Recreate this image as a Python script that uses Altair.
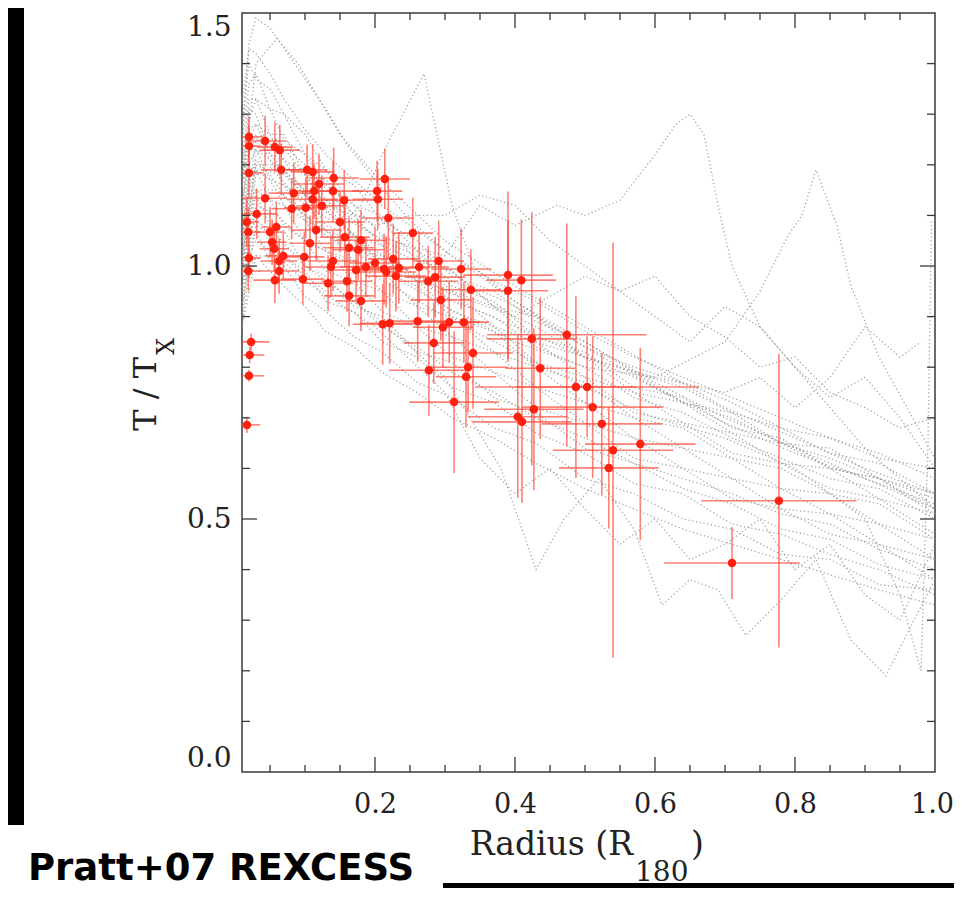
import altair as alt
import pandas as pd

# ---------------- red data points (Pratt+07 REXCESS) ----------------
rx = [0.020, 0.020, 0.043, 0.057, 0.064, 0.020, 0.066, 0.103, 0.111, 0.141,
      0.120, 0.084, 0.113, 0.140, 0.043, 0.111, 0.156, 0.214, 0.203, 0.204,
      0.081, 0.101, 0.124, 0.031, 0.017, 0.019, 0.050, 0.059, 0.116, 0.150,
      0.157, 0.180, 0.053, 0.056, 0.107, 0.163, 0.176, 0.069, 0.063, 0.099,
      0.140, 0.137, 0.219, 0.020, 0.019, 0.063, 0.057, 0.097, 0.133, 0.160,
      0.173, 0.187, 0.200, 0.213, 0.216, 0.163, 0.180, 0.226, 0.230, 0.234,
      0.254, 0.263, 0.276, 0.286, 0.291, 0.294, 0.323, 0.337, 0.211, 0.221,
      0.261, 0.297, 0.306, 0.327, 0.284, 0.340, 0.277, 0.333, 0.330, 0.313,
      0.390, 0.409, 0.390, 0.424, 0.436, 0.474, 0.487, 0.503, 0.427, 0.511,
      0.404, 0.410, 0.524, 0.579, 0.540, 0.534, 0.777, 0.710, 0.023, 0.021,
      0.020, 0.017]
ry = [1.255, 1.237, 1.247, 1.235, 1.229, 1.184, 1.190, 1.190, 1.186, 1.174,
      1.162, 1.144, 1.148, 1.148, 1.134, 1.132, 1.130, 1.172, 1.148, 1.132,
      1.113, 1.115, 1.119, 1.103, 1.087, 1.067, 1.067, 1.077, 1.071, 1.087,
      1.057, 1.051, 1.047, 1.034, 1.045, 1.036, 1.032, 1.020, 1.010, 1.018,
      1.010, 0.998, 1.095, 1.016, 0.990, 0.990, 0.972, 0.974, 0.966, 0.970,
      0.992, 0.998, 1.006, 0.994, 0.988, 0.941, 0.931, 1.014, 0.980, 0.996,
      1.065, 0.998, 0.970, 0.978, 1.010, 0.933, 0.994, 0.953, 0.885, 0.887,
      0.891, 0.879, 0.889, 0.889, 0.848, 0.828, 0.794, 0.800, 0.781, 0.731,
      0.982, 0.972, 0.951, 0.856, 0.798, 0.864, 0.761, 0.761, 0.717, 0.721,
      0.702, 0.692, 0.688, 0.648, 0.636, 0.601, 0.536, 0.413, 0.850, 0.824,
      0.783, 0.686]
rxe = [0.021, 0.017, 0.029, 0.026, 0.029, 0.021, 0.029, 0.029, 0.031, 0.036,
       0.036, 0.036, 0.036, 0.043, 0.031, 0.036, 0.043, 0.036, 0.036, 0.036,
       0.029, 0.031, 0.036, 0.029, 0.017, 0.017, 0.021, 0.021, 0.036, 0.036,
       0.036, 0.036, 0.021, 0.021, 0.029, 0.036, 0.036, 0.026, 0.026, 0.029,
       0.036, 0.036, 0.036, 0.017, 0.017, 0.029, 0.031, 0.031, 0.036, 0.036,
       0.036, 0.036, 0.036, 0.036, 0.043, 0.036, 0.036, 0.036, 0.043, 0.043,
       0.029, 0.043, 0.043, 0.043, 0.036, 0.043, 0.043, 0.043, 0.043, 0.043,
       0.043, 0.043, 0.043, 0.036, 0.043, 0.057, 0.057, 0.057, 0.043, 0.064,
       0.064, 0.050, 0.057, 0.064, 0.050, 0.114, 0.086, 0.160, 0.071, 0.100,
       0.071, 0.071, 0.086, 0.079, 0.086, 0.071, 0.111, 0.097, 0.026, 0.021,
       0.021, 0.019]
rye = [0.040, 0.040, 0.050, 0.050, 0.050, 0.050, 0.050, 0.050, 0.055, 0.060,
       0.060, 0.060, 0.055, 0.060, 0.050, 0.060, 0.060, 0.060, 0.060, 0.060,
       0.060, 0.060, 0.060, 0.050, 0.050, 0.050, 0.050, 0.050, 0.060, 0.060,
       0.060, 0.060, 0.045, 0.045, 0.055, 0.060, 0.060, 0.045, 0.045, 0.050,
       0.060, 0.060, 0.080, 0.040, 0.040, 0.045, 0.045, 0.050, 0.055, 0.060,
       0.060, 0.060, 0.070, 0.070, 0.070, 0.060, 0.060, 0.070, 0.070, 0.070,
       0.070, 0.070, 0.070, 0.080, 0.080, 0.080, 0.080, 0.080, 0.080, 0.080,
       0.080, 0.080, 0.080, 0.080, 0.080, 0.110, 0.090, 0.090, 0.100, 0.140,
       0.165, 0.120, 0.140, 0.250, 0.140, 0.220, 0.180, 0.100, 0.160, 0.140,
       0.160, 0.160, 0.140, 0.190, 0.410, 0.120, 0.290, 0.071, 0.016, 0.016,
       0.012, 0.016]

# ---------------- grey dotted simulated profiles ----------------
band_x = [0.01, 0.02, 0.03, 0.05, 0.07, 0.1, 0.13, 0.17, 0.21, 0.26, 0.31, 0.37, 0.43,
          0.5, 0.57, 0.64, 0.71, 0.78, 0.85, 0.92, 1.0]
p01 = [1.32, 1.43, 1.42, 1.38, 1.33, 1.27, 1.22, 1.17, 1.12, 1.07, 1.02, 0.97, 0.93, 0.87, 0.82, 0.78, 0.74, 0.70, 0.66, 0.63, 0.58]
p02 = [1.28, 1.40, 1.37, 1.35, 1.30, 1.26, 1.19, 1.16, 1.09, 1.05, 0.98, 0.95, 0.89, 0.85, 0.79, 0.76, 0.71, 0.68, 0.63, 0.61, 0.55]
p03 = [1.24, 1.36, 1.38, 1.31, 1.30, 1.22, 1.19, 1.12, 1.10, 1.03, 0.99, 0.92, 0.88, 0.82, 0.78, 0.73, 0.70, 0.65, 0.62, 0.58, 0.54]
p04 = [1.20, 1.33, 1.33, 1.31, 1.25, 1.22, 1.16, 1.12, 1.06, 1.03, 0.96, 0.93, 0.86, 0.83, 0.76, 0.74, 0.68, 0.66, 0.60, 0.58, 0.51]
p05 = [1.18, 1.29, 1.33, 1.26, 1.26, 1.18, 1.17, 1.10, 1.09, 1.01, 0.99, 0.92, 0.90, 0.82, 0.79, 0.73, 0.71, 0.65, 0.64, 0.58, 0.55]
p06 = [1.15, 1.27, 1.28, 1.26, 1.21, 1.18, 1.12, 1.10, 1.04, 1.01, 0.95, 0.92, 0.85, 0.82, 0.75, 0.73, 0.67, 0.65, 0.60, 0.58, 0.52]
p07 = [1.12, 1.25, 1.28, 1.22, 1.21, 1.14, 1.12, 1.06, 1.04, 0.97, 0.95, 0.88, 0.85, 0.78, 0.75, 0.69, 0.67, 0.61, 0.60, 0.54, 0.51]
p08 = [1.11, 1.22, 1.26, 1.21, 1.18, 1.14, 1.08, 1.06, 1.00, 0.97, 0.91, 0.88, 0.81, 0.78, 0.71, 0.69, 0.63, 0.61, 0.56, 0.54, 0.47]
p09 = [1.10, 1.23, 1.23, 1.21, 1.16, 1.13, 1.07, 1.05, 0.99, 0.96, 0.90, 0.87, 0.80, 0.77, 0.70, 0.68, 0.62, 0.60, 0.55, 0.53, 0.46]
p10 = [1.07, 1.20, 1.23, 1.17, 1.16, 1.09, 1.07, 1.01, 0.99, 0.92, 0.90, 0.83, 0.80, 0.73, 0.70, 0.64, 0.62, 0.56, 0.55, 0.49, 0.46]
p11 = [1.05, 1.18, 1.19, 1.17, 1.12, 1.09, 1.03, 1.01, 0.95, 0.92, 0.86, 0.83, 0.76, 0.73, 0.66, 0.64, 0.58, 0.56, 0.51, 0.49, 0.42]
p12 = [1.03, 1.15, 1.19, 1.13, 1.12, 1.05, 1.03, 0.97, 0.95, 0.88, 0.86, 0.79, 0.76, 0.69, 0.66, 0.60, 0.58, 0.52, 0.51, 0.45, 0.42]
p13 = [1.01, 1.13, 1.15, 1.13, 1.08, 1.05, 0.99, 0.97, 0.91, 0.88, 0.82, 0.79, 0.72, 0.69, 0.62, 0.60, 0.54, 0.52, 0.47, 0.45, 0.38]
p14 = [0.98, 1.10, 1.14, 1.08, 1.07, 1.00, 0.98, 0.92, 0.90, 0.83, 0.81, 0.74, 0.71, 0.64, 0.61, 0.56, 0.53, 0.48, 0.46, 0.41, 0.38]
p15 = [0.95, 1.07, 1.09, 1.07, 1.02, 0.99, 0.93, 0.91, 0.85, 0.82, 0.76, 0.73, 0.67, 0.63, 0.57, 0.55, 0.49, 0.47, 0.43, 0.40, 0.35]
p16 = [0.92, 1.03, 1.07, 1.01, 1.00, 0.94, 0.91, 0.86, 0.83, 0.77, 0.74, 0.68, 0.65, 0.58, 0.55, 0.50, 0.48, 0.43, 0.42, 0.37, 0.36]
p17 = [0.88, 0.99, 1.02, 0.99, 0.96, 0.92, 0.87, 0.84, 0.79, 0.75, 0.70, 0.66, 0.61, 0.56, 0.52, 0.48, 0.45, 0.42, 0.39, 0.36, 0.33]
p18 = [1.16, 1.31, 1.30, 1.22, 1.19, 1.15, 1.13, 1.09, 1.05, 1.02, 0.97, 0.94, 0.90, 0.84, 0.80, 0.77, 0.73, 0.68, 0.66, 0.62, 0.60]
p19 = [1.06, 1.17, 1.21, 1.18, 1.14, 1.10, 1.06, 1.03, 1.02, 0.98, 0.93, 0.90, 0.84, 0.80, 0.74, 0.71, 0.66, 0.62, 0.58, 0.56, 0.50]
p20 = [0.90, 1.02, 1.05, 1.03, 1.02, 0.98, 0.95, 0.93, 0.88, 0.84, 0.79, 0.75, 0.70, 0.66, 0.61, 0.58, 0.55, 0.51, 0.49, 0.44, 0.40]

o1_x = [0.01, 0.02, 0.03, 0.05, 0.07, 0.1, 0.13, 0.16, 0.2, 0.25, 0.3, 0.4, 0.5, 0.6, 0.7, 0.8, 0.9, 1.0]
o1_y = [1.25, 1.44, 1.49, 1.47, 1.43, 1.37, 1.31, 1.24, 1.17, 1.09, 1.03, 0.93, 0.84, 0.76, 0.69, 0.63, 0.58, 0.53]
o2_x = [0.01, 0.03, 0.06, 0.09, 0.12, 0.15, 0.2, 0.3, 0.4, 0.5, 0.6, 0.7, 0.8, 0.9, 1.0]
o2_y = [1.15, 1.40, 1.45, 1.40, 1.33, 1.26, 1.18, 1.05, 0.96, 0.88, 0.80, 0.72, 0.66, 0.60, 0.55]
o3_x = [0.01, 0.03, 0.06, 0.1, 0.15, 0.18, 0.21, 0.24, 0.27, 0.29, 0.31, 0.34, 0.4, 0.5, 0.6, 0.7, 0.8, 0.9, 1.0]
o3_y = [1.00, 1.20, 1.18, 1.12, 1.08, 1.12, 1.22, 1.30, 1.38, 1.25, 1.12, 1.00, 0.93, 0.85, 0.77, 0.70, 0.64, 0.58, 0.52]
o4_x = [0.01, 0.03, 0.06, 0.1, 0.15, 0.2, 0.3, 0.35, 0.4, 0.46, 0.5, 0.55, 0.6, 0.63, 0.65, 0.67,
        0.69, 0.71, 0.75, 0.8, 0.85, 0.9, 0.95, 1.0]
o4_y = [1.05, 1.25, 1.25, 1.18, 1.10, 1.06, 1.02, 1.12, 1.08, 1.12, 1.10, 1.13, 1.22, 1.28, 1.30, 1.26,
        1.12, 1.00, 0.88, 0.80, 0.72, 0.64, 0.58, 0.52]
o5_x = [0.01, 0.03, 0.06, 0.1, 0.2, 0.3, 0.4, 0.5, 0.6, 0.7, 0.75, 0.79, 0.81, 0.83, 0.86, 0.88, 0.92, 0.96, 1.0]
o5_y = [0.95, 1.15, 1.15, 1.10, 1.00, 0.92, 0.85, 0.80, 0.78, 0.85, 0.95, 1.06, 1.10, 1.19, 1.08, 0.96, 0.82, 0.72, 0.62]
o6_x = [0.01, 0.03, 0.06, 0.1, 0.2, 0.3, 0.4, 0.5, 0.6, 0.7, 0.8, 0.9, 0.95, 0.98, 0.99, 0.995]
o6_y = [0.95, 1.12, 1.10, 1.05, 0.98, 0.90, 0.83, 0.76, 0.70, 0.66, 0.60, 0.50, 0.35, 0.20, 0.65, 1.09]
o7_x = [0.01, 0.03, 0.06, 0.1, 0.2, 0.3, 0.38, 0.43, 0.47, 0.52, 0.57, 0.61, 0.65, 0.69, 0.73, 0.78,
        0.83, 0.88, 0.93, 0.97, 1.0]
o7_y = [0.92, 1.08, 1.06, 1.00, 0.90, 0.78, 0.60, 0.40, 0.50, 0.58, 0.48, 0.33, 0.38, 0.36, 0.27, 0.34,
        0.42, 0.26, 0.19, 0.30, 0.38]
o8_x = [0.01, 0.03, 0.06, 0.1, 0.2, 0.3, 0.35, 0.4, 0.45, 0.5, 0.55, 0.6, 0.65, 0.7, 0.75, 0.8, 0.85, 0.9, 0.95, 1.0]
o8_y = [0.88, 1.02, 1.02, 0.97, 0.88, 0.75, 0.62, 0.55, 0.60, 0.52, 0.45, 0.50, 0.42, 0.45, 0.50, 0.40, 0.45, 0.35, 0.30, 0.45]
o9_x = [0.01, 0.03, 0.06, 0.1, 0.15, 0.2, 0.25, 0.3, 0.35, 0.4, 0.45, 0.5, 0.55, 0.6, 0.65, 0.7, 0.75,
        0.8, 0.85, 0.9, 0.95, 1.0]
o9_y = [1.00, 1.22, 1.25, 1.20, 1.12, 1.08, 1.10, 1.10, 1.14, 1.12, 1.05, 1.00, 0.95, 0.90, 0.85, 0.92, 0.88,
        0.80, 0.74, 0.78, 0.70, 0.60]
o10_x = [0.01, 0.03, 0.06, 0.1, 0.2, 0.3, 0.4, 0.45, 0.5, 0.55, 0.6, 0.65, 0.7, 0.75, 0.8, 0.85, 0.9, 0.95, 1.0]
o10_y = [0.98, 1.18, 1.20, 1.14, 1.03, 0.95, 0.90, 0.94, 0.98, 0.95, 0.98, 0.90, 0.86, 0.80, 0.82, 0.75, 0.72, 0.68, 0.70]
o11_x = [0.01, 0.03, 0.06, 0.1, 0.2, 0.3, 0.4, 0.5, 0.6, 0.7, 0.75, 0.8, 0.85, 0.9, 0.95, 0.98]
o11_y = [1.02, 1.20, 1.20, 1.15, 1.02, 0.94, 0.88, 0.82, 0.78, 0.75, 0.78, 0.72, 0.78, 0.88, 0.82, 0.85]

# ---------------- axis ticks ----------------
x_major = [0.2, 0.4, 0.6, 0.8]
x_minor = [0.05, 0.1, 0.15, 0.25, 0.3, 0.35, 0.45, 0.5, 0.55, 0.65, 0.7, 0.75, 0.85, 0.9, 0.95]
y_major = [0.5, 1.0]
y_minor = [0.1, 0.2, 0.3, 0.4, 0.6, 0.7, 0.8, 0.9, 1.1, 1.2, 1.3, 1.4]
x_labels = [0.2, 0.4, 0.6, 0.8, 1.0]
y_labels = [0.0, 0.5, 1.0, 1.5]

# ---------------- build tables ----------------
rows = []
band = [p01, p02, p03, p04, p05, p06, p07, p08, p09, p10,
        p11, p12, p13, p14, p15, p16, p17, p18, p19, p20]
for i, prof in enumerate(band):
    for xv, yv in zip(band_x, prof):
        rows.append({"x": xv, "y": yv, "id": f"p{i}"})
others = [(o1_x, o1_y), (o2_x, o2_y), (o3_x, o3_y), (o4_x, o4_y), (o5_x, o5_y), (o6_x, o6_y),
          (o7_x, o7_y), (o8_x, o8_y), (o9_x, o9_y), (o10_x, o10_y), (o11_x, o11_y)]
for i, (xs_, ys_) in enumerate(others):
    for xv, yv in zip(xs_, ys_):
        rows.append({"x": xv, "y": yv, "id": f"o{i}"})
prof_df = pd.DataFrame(rows)
prof_df["order"] = range(len(prof_df))

pts = pd.DataFrame({"x": rx, "y": ry, "xe": rxe, "ye": rye})

W, H = 693, 759
SERIF = "DejaVu Serif"
TXT = "#222222"
FRAME = "#3a3a3a"

xs = alt.Scale(domain=[0.01, 1.0], nice=False, zero=False)
ys = alt.Scale(domain=[0.0, 1.5], nice=False, zero=False)
xax = alt.Axis(values=x_labels, format=".1f", title=None, ticks=False, domain=False, grid=False,
               labelFont=SERIF, labelFontSize=27, labelColor=TXT, labelPadding=19, labelFlush=False,
               labelOffset={"condition": {"test": "datum.value > 0.99", "value": -3}, "value": 0})
yax = alt.Axis(values=y_labels, format=".1f", title=None, ticks=False, domain=False, grid=False,
               labelFont=SERIF, labelFontSize=28, labelColor=TXT, labelPadding=11, labelFlush=True)


def X(f):
    return alt.X(f, type="quantitative", scale=xs, axis=xax)


def Y(f):
    return alt.Y(f, type="quantitative", scale=ys, axis=yax)


profiles = alt.Chart(prof_df).mark_line(
    color="#999999", strokeWidth=1.3, strokeDash=[1.2, 2.6], clip=True, opacity=0.9
).encode(x=X("x"), y=Y("y"), detail="id:N", order="order:Q")

base_pts = alt.Chart(pts).transform_calculate(
    xlo="datum.x - datum.xe", xhi="datum.x + datum.xe",
    ylo="datum.y - datum.ye", yhi="datum.y + datum.ye")

xbars = base_pts.mark_rule(color="#ff4a3a", strokeWidth=1.6, opacity=0.7, clip=True).encode(
    x=X("xlo"), x2="xhi:Q", y=Y("y"))
ybars = base_pts.mark_rule(color="#ff4a3a", strokeWidth=1.6, opacity=0.7, clip=True).encode(
    x=X("x"), y=Y("ylo"), y2="yhi:Q")
dots = alt.Chart(pts).mark_circle(color="#ff2010", opacity=1, size=72).encode(x=X("x"), y=Y("y"))


# frame ticks (inward, IDL style)
def xticks(vals, length):
    d = pd.DataFrame({"x": vals})
    bot = alt.Chart(d).mark_rule(color=FRAME, strokeWidth=1.3).encode(
        x=X("x"), y=alt.value(H), y2=alt.value(H - length))
    top = alt.Chart(d).mark_rule(color=FRAME, strokeWidth=1.3).encode(
        x=X("x"), y=alt.value(0), y2=alt.value(length))
    return [bot, top]


def yticks(vals, length):
    d = pd.DataFrame({"y": vals})
    left = alt.Chart(d).mark_rule(color=FRAME, strokeWidth=1.3).encode(
        y=Y("y"), x=alt.value(0), x2=alt.value(length))
    right = alt.Chart(d).mark_rule(color=FRAME, strokeWidth=1.3).encode(
        y=Y("y"), x=alt.value(W - length), x2=alt.value(W))
    return [left, right]


tick_layers = xticks(x_major, 15) + xticks(x_minor, 7) + yticks(y_major, 15) + yticks(y_minor, 8)


def label(text, x, y, size, align="left", angle=0, font=SERIF, weight="normal", color=TXT):
    return alt.Chart(pd.DataFrame({"t": [text]})).mark_text(
        align=align, baseline="alphabetic", angle=angle, font=font, fontSize=size,
        fontWeight=weight, color=color
    ).encode(x=alt.value(x), y=alt.value(y), text="t:N")


titles = [
    label("Radius (R", 391, 842, 33, align="right"),
    label("180", 393, 868, 28),
    label(")", 449, 842, 33),
    label("T  /  T", -86, 344, 32, align="right", angle=270),
    label("X", -68, 342, 24, align="left", angle=270),
    label("Pratt+07 REXCESS", -214, 867, 37, font="DejaVu Sans", weight="bold", color="#000000"),
]

# slide decoration (black bands)
left_band = alt.Chart(pd.DataFrame({"a": [0]})).mark_rect(color="#000000").encode(
    x=alt.value(-234), x2=alt.value(-218), y=alt.value(-5), y2=alt.value(812))
bottom_band = alt.Chart(pd.DataFrame({"a": [0]})).mark_rect(color="#000000").encode(
    x=alt.value(201), x2=alt.value(712), y=alt.value(870), y2=alt.value(875))

chart = alt.layer(
    profiles, xbars, ybars, dots, *tick_layers, *titles, left_band, bottom_band
).properties(
    width=W, height=H,
    autosize=alt.AutoSizeParams(type="none"),
    padding={"left": 234, "top": 5, "right": 19, "bottom": 116},
    background="white",
).configure_view(stroke=FRAME, strokeWidth=1.5)

chart.save("out.html", embed_options={"renderer": "svg", "actions": False})
